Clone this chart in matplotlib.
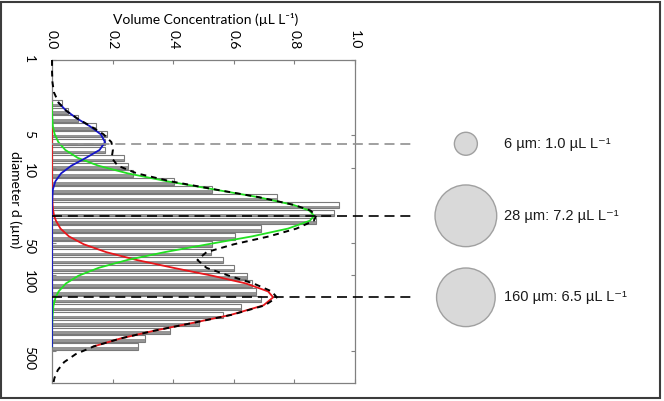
import matplotlib
matplotlib.use('Agg')
import matplotlib.pyplot as plt
from matplotlib.patches import Rectangle
from matplotlib.ticker import FormatStrFormatter, NullLocator
import numpy as np

plt.rcParams['font.family'] = ['Lato', 'DejaVu Sans']

# size bins (um) and measured volume concentration (uL/L)
bin_d = [2.50, 2.96, 3.50, 4.14, 4.90, 5.79, 6.85, 8.11, 9.59, 11.3, 13.4, 15.9, 18.8, 22.2, 26.3, 31.1,
         36.8, 43.5, 51.5, 60.9, 72.0, 85.2, 101, 119, 141, 167, 197, 233, 276, 327, 386, 457]
bin_vc = [0.033, 0.054, 0.087, 0.144, 0.180, 0.175, 0.175, 0.237, 0.250, 0.268, 0.403, 0.527, 0.744, 0.947,
          0.930, 0.870, 0.690, 0.604, 0.527, 0.524, 0.566, 0.600, 0.643, 0.660, 0.672, 0.690, 0.624, 0.565,
          0.484, 0.390, 0.307, 0.285]

# fitted modes
fit_d = [2.5, 2.96, 3.5, 4.14, 4.9, 5.79, 6.85, 8.11, 9.59, 11.3, 13.4, 15.9, 18.8, 22.2, 25, 28, 31.1,
         36.8, 43.5, 51.5, 60.9, 72, 85.2, 101, 119, 141, 160, 190, 233, 276, 327, 386, 457]
blue = [0.022, 0.047, 0.083, 0.126, 0.161, 0.175, 0.157, 0.112, 0.064, 0.030, 0.011, 0.003, 0.001, 0, 0, 0,
        0, 0, 0, 0, 0, 0, 0, 0, 0, 0, 0, 0, 0, 0, 0, 0, 0]
green = [0, 0, 0.001, 0.003, 0.009, 0.021, 0.044, 0.085, 0.153, 0.250, 0.381, 0.533, 0.681, 0.797, 0.849,
         0.865, 0.851, 0.779, 0.660, 0.514, 0.372, 0.249, 0.154, 0.087, 0.046, 0.022, 0.012, 0.005, 0.002,
         0.001, 0, 0, 0]
red = [0, 0, 0, 0, 0, 0, 0, 0, 0, 0, 0, 0, 0.001, 0.002, 0.004, 0.007, 0.013, 0.028, 0.056, 0.105, 0.179,
       0.279, 0.401, 0.530, 0.640, 0.713, 0.730, 0.698, 0.590, 0.466, 0.337, 0.226, 0.138]

# sum of modes (dashed), drawn over a wider range
sum_d = [1, 1.3, 1.6, 2.0, 2.5, 2.96, 3.5, 4.14, 4.9, 5.79, 6.85, 8.11, 9.59, 11.3, 13.4, 15.9, 18.8, 22.2,
         25, 28, 31.1, 36.8, 43.5, 51.5, 60.9, 72, 85.2, 101, 119, 141, 160, 190, 233, 276, 327, 386, 457,
         540, 640, 760, 900, 1000]
total = [0, 0.0002, 0.0014, 0.0065, 0.022, 0.047, 0.084, 0.129, 0.170, 0.196, 0.201, 0.197, 0.217, 0.280,
         0.392, 0.536, 0.683, 0.799, 0.853, 0.872, 0.864, 0.807, 0.716, 0.600, 0.510, 0.480, 0.510, 0.585,
         0.665, 0.725, 0.742, 0.703, 0.592, 0.467, 0.337, 0.226, 0.138, 0.078, 0.040, 0.019, 0.008, 0.0046]

mode_d = [6, 28, 160]
mode_vc = [1.0, 7.2, 6.5]
mode_col = ['#909090', 'black', 'black']

fig = plt.figure(figsize=(6.64, 4.01), dpi=100)
ax = fig.add_axes([0.0783, 0.0449, 0.4563, 0.8055])
ax.set_yscale('log')
ax.set_ylim(1000, 1)
ax.set_xlim(0, 1)

# bars: white with outline, darker band on the lower half
d = np.array(bin_d)
vc = np.array(bin_vc)
ax.barh(d / 1.07, vc, height=d * 1.07 - d / 1.07, align='edge', color='white',
        edgecolor='#7a7a7a', linewidth=0.8, zorder=1)
ax.barh(d * 1.015, vc, height=d * 1.07 - d * 1.015, align='edge', color='#959595',
        linewidth=0, zorder=1.5)

ax.plot(red, fit_d, color='#e8161b', lw=1.3, zorder=3)
ax.plot(green, fit_d, color='#22e022', lw=1.3, zorder=3.2)
ax.plot(blue, fit_d, color='#1515c8', lw=1.3, zorder=3.4)
ax.plot(total, sum_d, color='black', lw=1.4, ls=(0, (3, 2.5)), zorder=5, clip_on=False)

# mode markers to the right
for md, mv, c in zip(mode_d, mode_vc, mode_col):
    ax.plot([0, 1.19], [md, md], color=c, lw=1.2, dashes=(6, 3.5), clip_on=False, zorder=6)
    ax.text(1.492, md, f'{md} µm: {mv:.1f} µL L⁻¹', va='center', ha='left', fontsize=10.5,
            family=['Liberation Sans', 'DejaVu Sans'], color='#1a1a1a')
ax.scatter([1.366] * 3, mode_d, s=[274 * v for v in mode_vc], facecolor='#d9d9d9',
           edgecolor='#a0a0a0', linewidth=1, clip_on=False, zorder=6)

ax.set_xticks([0.0, 0.2, 0.4, 0.6, 0.8, 1.0])
ax.xaxis.set_major_formatter(FormatStrFormatter('%.1f'))
ax.set_yticks([1, 5, 10, 50, 100, 500])
ax.yaxis.set_major_formatter(FormatStrFormatter('%g'))
ax.yaxis.set_minor_locator(NullLocator())
ax.tick_params(which='both', direction='in', top=True, bottom=True, left=True, right=True,
               labeltop=True, labelbottom=False, labelleft=True, labelright=False,
               color='#808080', length=3, labelsize=10)
ax.tick_params(axis='x', labelrotation=-90, pad=8)
ax.tick_params(axis='y', labelrotation=-90, pad=12)
for s in ax.spines.values():
    s.set_color('#808080')
    s.set_linewidth(0.9)

ax.set_xlabel('Volume Concentration (µL L⁻¹)', fontsize=10)
ax.xaxis.set_label_position('top')
ax.xaxis.set_label_coords(0.508, 1.111)
ax.set_ylabel('diameter d (µm)', rotation=-90, fontsize=10, va='center')
ax.yaxis.set_label_coords(-0.122, 0.567)

fig.patches.append(Rectangle((0.0015, 0.0075), 0.9925, 0.9875, transform=fig.transFigure,
                             fill=False, edgecolor='#3c3c3c', lw=1.5))

fig.savefig('out.png', dpi=100)
